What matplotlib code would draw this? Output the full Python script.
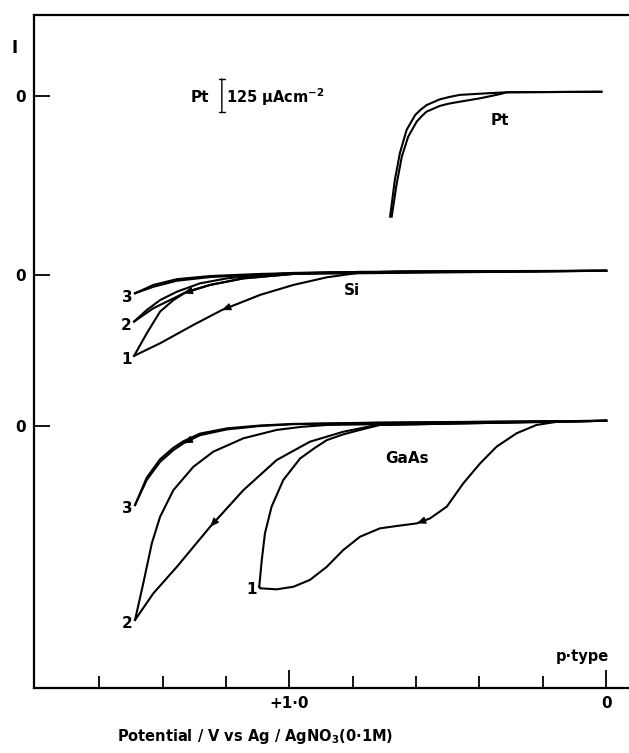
import matplotlib.pyplot as plt
import numpy as np

plt.rcParams['font.family'] = ['DejaVu Sans']
plt.rcParams['font.weight'] = 'bold'

# potential (V vs Ag/AgNO3) and current density (uA cm^-2, relative to each trace's own zero)
# Pt electrode, two sweeps
pt_a_E = [0.682, 0.667, 0.651, 0.630, 0.603, 0.585, 0.567, 0.525, 0.495, 0.462, 0.377, 0.314, 0.015]
pt_a_I = [-462, -322, -219, -131, -74, -53, -36, -14, -5, 3, 9, 13, 15]
pt_b_E = [0.677, 0.661, 0.645, 0.625, 0.598, 0.582, 0.567, 0.525, 0.495, 0.462, 0.398, 0.335, 0.314, 0.015]
pt_b_I = [-462, -335, -233, -157, -99, -78, -61, -39, -30, -23, -10, 6, 13, 15]

# p-type Si, cycles 1-3
si1_a_E = [1.490, 1.450, 1.408, 1.366, 1.324, 1.250, 1.145, 0.987, 0.777, 0.0]
si1_a_I = [-309, -223, -140, -96, -64, -38, -13, 4, 12, 16]
si1_b_E = [1.490, 1.408, 1.303, 1.213, 1.092, 0.987, 0.882, 0.777, 0.651, 0.0]
si1_b_I = [-309, -261, -191, -134, -76, -38, -9, 9, 14, 16]
si2_a_E = [1.490, 1.450, 1.408, 1.355, 1.282, 1.197, 1.092, 0.987, 0.0]
si2_a_I = [-178, -134, -96, -64, -32, -13, 0, 8, 16]
si2_b_E = [1.490, 1.429, 1.355, 1.334, 1.250, 1.145, 0.987, 0.0]
si2_b_I = [-178, -127, -83, -70, -38, -13, 4, 16]
si3_a_E = [1.487, 1.429, 1.355, 1.250, 1.092, 0.882, 0.0]
si3_a_I = [-70, -38, -16, -4, 4, 10, 16]
si3_b_E = [1.487, 1.429, 1.355, 1.250, 1.092, 0.882, 0.0]
si3_b_I = [-70, -45, -22, -8, 2, 9, 16]

# p-type GaAs, cycles 1-3
gaas3_a_E = [1.487, 1.450, 1.408, 1.366, 1.334, 1.282, 1.197, 1.092, 0.987, 0.724, 0.0]
gaas3_a_I = [-303, -207, -138, -93, -67, -36, -14, -1, 6, 11, 19]
gaas3_b_E = [1.487, 1.450, 1.408, 1.366, 1.334, 1.282, 1.197, 1.092, 0.987, 0.724, 0.0]
gaas3_b_I = [-303, -198, -128, -84, -59, -30, -10, 1, 7, 12, 19]
gaas2_a_E = [1.487, 1.461, 1.434, 1.408, 1.366, 1.303, 1.240, 1.145, 1.040, 0.960, 0.882, 0.0]
gaas2_a_I = [-742, -602, -449, -348, -246, -157, -99, -48, -16, -4, 3, 19]
gaas2_b_E = [1.487, 1.429, 1.355, 1.250, 1.145, 1.040, 0.935, 0.830, 0.724, 0.0]
gaas2_b_I = [-742, -640, -539, -386, -246, -131, -61, -23, 3, 19]
gaas1_a_E = [1.095, 1.087, 1.077, 1.056, 1.019, 0.966, 0.920, 0.882, 0.830, 0.777, 0.714, 0.0]
gaas1_a_I = [-615, -513, -411, -309, -207, -125, -85, -55, -33, -16, 3, 19]
gaas1_b_E = [1.095, 1.092, 1.040, 0.987, 0.935, 0.882, 0.830, 0.777, 0.714, 0.661,
             0.598, 0.556, 0.503, 0.451, 0.398, 0.346, 0.283, 0.220, 0.156, 0.0]
gaas1_b_I = [-615, -621, -625, -615, -589, -539, -475, -424, -392, -383,
             -373, -354, -309, -220, -144, -80, -29, 3, 15, 19]

x_ticks = [1.6, 1.4, 1.2, 1.0, 0.8, 0.6, 0.4, 0.2, 0.0]

# vertical offsets of the three traces (uA cm^-2)
pt_off, si_off, gaas_off = 2263, 1578, 1002

fig = plt.figure(figsize=(6.29, 7.53), dpi=100)
ax = fig.add_axes([0.0545, 0.0863, 0.9455, 0.8937])
ax.set_xlim(1.805, -0.072)
ax.set_ylim(0, 2571)

lw = 1.5
def trace(E, I, off):
    ax.plot(E, np.array(I) + off, color='black', lw=lw, solid_joinstyle='round')

def arrow(E, I, off, i):
    ax.annotate('', xy=(E[i], I[i] + off), xytext=(E[i + 1], I[i + 1] + off),
                arrowprops=dict(arrowstyle='-|>,head_length=0.6,head_width=0.25',
                                color='black', lw=0.8, shrinkA=0, shrinkB=0,
                                mutation_scale=9))

for E, I in [(pt_a_E, pt_a_I), (pt_b_E, pt_b_I)]:
    trace(E, I, pt_off)
for E, I in [(si1_a_E, si1_a_I), (si1_b_E, si1_b_I), (si2_a_E, si2_a_I),
             (si2_b_E, si2_b_I), (si3_a_E, si3_a_I), (si3_b_E, si3_b_I)]:
    trace(E, I, si_off)
for E, I in [(gaas3_a_E, gaas3_a_I), (gaas3_b_E, gaas3_b_I), (gaas2_a_E, gaas2_a_I),
             (gaas2_b_E, gaas2_b_I), (gaas1_a_E, gaas1_a_I), (gaas1_b_E, gaas1_b_I)]:
    trace(E, I, gaas_off)

arrow(si1_b_E, si1_b_I, si_off, 3)
arrow(si2_b_E, si2_b_I, si_off, 3)
arrow(gaas3_a_E, gaas3_a_I, gaas_off, 4)
arrow(gaas2_b_E, gaas2_b_I, gaas_off, 3)
arrow(gaas1_b_E, gaas1_b_I, gaas_off, 10)

fs = 11
# cycle numbers
for E, I, off, lab in [(si1_a_E, si1_a_I, si_off, '1'), (si2_a_E, si2_a_I, si_off, '2'),
                       (si3_a_E, si3_a_I, si_off, '3'), (gaas3_a_E, gaas3_a_I, gaas_off, '3'),
                       (gaas2_a_E, gaas2_a_I, gaas_off, '2')]:
    ax.text(E[0] + 0.025, I[0] + off - 15, lab, ha='center', va='center', fontsize=fs)
ax.text(gaas1_a_E[0] + 0.025, gaas1_a_I[0] + gaas_off - 10, '1', ha='center', va='center', fontsize=fs)

ax.text(0.335, 2170, 'Pt', ha='center', va='center', fontsize=fs)
ax.text(0.803, 1520, 'Si', ha='center', va='center', fontsize=fs)
ax.text(0.630, 877, 'GaAs', ha='center', va='center', fontsize=fs)
ax.text(0.074, 122, 'p·type', ha='center', va='center', fontsize=fs - 0.5)

# 125 uA cm^-2 scale bar
ax.annotate('', xy=(1.213, pt_off + 64), xytext=(1.213, pt_off + 64 - 125),
            arrowprops=dict(arrowstyle='|-|,widthA=0.2,widthB=0.2', color='black', lw=1.0,
                            shrinkA=0, shrinkB=0))
ax.text(1.282, pt_off - 6, 'Pt', ha='center', va='center', fontsize=fs)
ax.text(1.200, pt_off - 6, r'125 $\mathbf{\mu}$Acm$^{\mathbf{-2}}$', ha='left', va='center', fontsize=fs - 0.5)

# axes
ax.spines['right'].set_visible(False)
for s in ['left', 'top', 'bottom']:
    ax.spines[s].set_linewidth(1.6)

ax.set_xticks([1.0, 0.0])
ax.set_xticklabels(['+1·0', '0'], fontsize=fs, fontweight='bold')
ax.set_xticks([t for t in x_ticks if t not in (1.0, 0.0)], minor=True)
ax.tick_params(axis='x', which='major', direction='in', length=13, width=1.3, pad=6)
ax.tick_params(axis='x', which='minor', direction='in', length=8.6, width=1.3)

ax.set_yticks([gaas_off, si_off, pt_off])
ax.set_yticklabels(['0', '0', '0'], fontsize=fs, fontweight='bold')
ax.tick_params(axis='y', direction='in', length=11.5, width=1.3, pad=6)

fig.text(15 / 629, 1 - 48 / 753, 'I', ha='center', va='center', fontsize=fs + 1)
fig.text(255 / 629, 1 - 737 / 753, r'Potential / V vs Ag / AgNO$_{\mathbf{3}}$(0·1M)',
         ha='center', va='center', fontsize=fs - 0.5)

fig.savefig('out.png', dpi=100)
